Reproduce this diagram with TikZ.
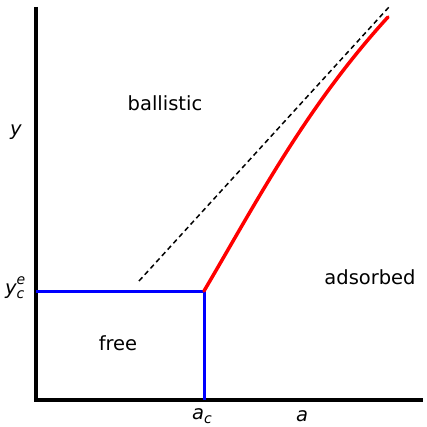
\documentclass[tikz,border=0pt]{standalone}
\usepackage{fontspec}
\setmainfont{DejaVu Sans}
\newcommand{\lowsub}[1]{\raisebox{-0.22em}{\fontsize{14}{14}\selectfont\itshape #1}}
\newcommand{\highsup}[1]{\raisebox{0.5em}{\fontsize{14}{14}\selectfont\itshape #1}}
\begin{document}
\begin{tikzpicture}[x=1pt,y=-1pt,
  axisline/.style={line width=3.5pt},
  bluel/.style={blue,line width=3pt},
  redl/.style={red,line width=3.5pt,line cap=round},
  dashl/.style={black,line width=1.5pt,dash pattern=on 5pt off 3.5pt},
  lbl/.style={font=\fontsize{19.5}{19.5}\selectfont,inner sep=0pt}]
\useasboundingbox (0,0) rectangle (426,427);
\coordinate (ytop) at (36,7);
\coordinate (orig) at (36,400);
\coordinate (xend) at (423,400);
\coordinate (yc) at (36,291);
\coordinate (crit) at (204,291);
\coordinate (ac) at (204,400);
\coordinate (dstart) at (139,281);
\coordinate (dend) at (389,7);
\coordinate (rend) at (388,17);
\draw[axisline] (ytop) -- (orig) -- (xend);
\draw[bluel] (yc) -- (crit) -- (ac);
\draw[dashl] (dstart) -- (dend);
\draw[redl] (crit) .. controls (257,201) and (306,107) .. (rend);
\node[lbl] (ball) at (165,103) {ballistic};
\node[lbl] (ads) at (370,277) {adsorbed};
\node[lbl] (free) at (118,343) {free};
\node[lbl] (ylab) at (16,132) {\itshape y};
\node[lbl,anchor=west] (yclab) at (5,288) {\itshape y\rlap{\highsup{e}}\lowsub{c}};
\node[lbl,anchor=west] (aclab) at (192,416) {\itshape a\lowsub{c}};
\node[lbl] (alab) at (302,416) {\itshape a};
\end{tikzpicture}
\end{document}
